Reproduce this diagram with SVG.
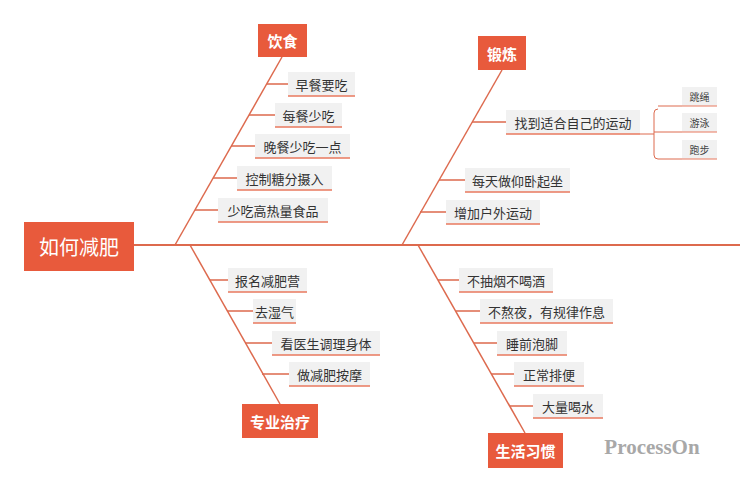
<svg xmlns="http://www.w3.org/2000/svg" width="740" height="492" viewBox="0 0 740 492">
<style>
.t{font-family:"Noto Sans CJK SC","Liberation Sans",sans-serif;font-size:13px;fill:#333;text-anchor:middle;dominant-baseline:central}
.b{fill:#f1f1f1}
.u{stroke:#e8785e;stroke-width:1.5}
.c{fill:#e85a3c}
.h{font-family:"Noto Sans CJK SC",sans-serif;font-size:15px;fill:#fff;text-anchor:middle;dominant-baseline:central;font-weight:bold}
.l{stroke:#dd6a4e;stroke-width:1.5;fill:none}
.s{font-family:"Noto Sans CJK SC",sans-serif;font-size:10px;fill:#444;text-anchor:middle;dominant-baseline:central}
</style>
<rect width="740" height="492" fill="#fff"/>
<g id="connectors">
<line class="l" x1="134" y1="245" x2="740" y2="245" style="stroke-width:2"/>
<line class="l" x1="282" y1="57" x2="175" y2="245"/>
<line class="l" x1="502" y1="70" x2="402" y2="245"/>
<line class="l" x1="190" y1="245" x2="280" y2="404"/>
<line class="l" x1="418" y1="245" x2="525" y2="433"/>
<path class="l" d="M267 84H288M249 115H275M231 146H255M213 178H237M195 210H218"/>
<path class="l" d="M472 122H506M439 180H465M420 212H446"/>
<path class="l" d="M210 280H228M227 311H253M245 343H272M262 374H289"/>
<path class="l" d="M438 280H459M456 311H480M474 343H497M491 374H514M510 406H533"/>
<path class="l" style="stroke-width:1" d="M640 134H654M658 109Q654 109 654 113V155Q654 159 658 159H682M654 132H682M658 106H682"/>
</g>
<g id="root"><rect class="c" x="24" y="222" width="110" height="49"/><text class="h" x="79" y="246" style="font-size:20px;font-weight:normal">如何减肥</text></g>
<g id="yinshi"><rect class="c" x="258" y="24" width="49" height="33"/><text class="h" x="282.5" y="40.5">饮食</text></g>
<g id="duanlian"><rect class="c" x="478" y="36" width="48" height="34"/><text class="h" x="502" y="53">锻炼</text></g>
<g id="zhuanye"><rect class="c" x="242" y="404" width="76" height="34"/><text class="h" x="280" y="421">专业治疗</text></g>
<g id="shenghuo"><rect class="c" x="488" y="433" width="75" height="35"/><text class="h" x="525.5" y="450.5">生活习惯</text></g>
<g id="n1"><rect class="b" x="288" y="72" width="67" height="24"/><line class="u" x1="288" y1="96" x2="355" y2="96"/><text class="t" x="321.5" y="84">早餐要吃</text></g>
<g id="n2"><rect class="b" x="275" y="103" width="67" height="24"/><line class="u" x1="275" y1="127" x2="342" y2="127"/><text class="t" x="308.5" y="115">每餐少吃</text></g>
<g id="n3"><rect class="b" x="255" y="134" width="95" height="24"/><line class="u" x1="255" y1="158" x2="350" y2="158"/><text class="t" x="302.5" y="146">晚餐少吃一点</text></g>
<g id="n4"><rect class="b" x="237" y="166" width="95" height="24"/><line class="u" x1="237" y1="190" x2="332" y2="190"/><text class="t" x="284.5" y="178">控制糖分摄入</text></g>
<g id="n5"><rect class="b" x="218" y="198" width="110" height="24"/><line class="u" x1="218" y1="222" x2="328" y2="222"/><text class="t" x="273" y="210">少吃高热量食品</text></g>
<g id="n6"><rect class="b" x="506" y="110" width="134" height="24"/><line class="u" x1="506" y1="134" x2="640" y2="134"/><text class="t" x="573" y="122">找到适合自己的运动</text></g>
<g id="n6a"><rect class="b" x="682" y="87" width="35" height="19"/><line class="u" x1="682" y1="106" x2="717" y2="106" style="stroke-width:1"/><text class="s" x="699.5" y="96">跳绳</text></g>
<g id="n6b"><rect class="b" x="682" y="113" width="35" height="19"/><line class="u" x1="682" y1="132" x2="717" y2="132" style="stroke-width:1"/><text class="s" x="699.5" y="122">游泳</text></g>
<g id="n6c"><rect class="b" x="682" y="140" width="35" height="19"/><line class="u" x1="682" y1="159" x2="717" y2="159" style="stroke-width:1"/><text class="s" x="699.5" y="149">跑步</text></g>
<g id="n7"><rect class="b" x="465" y="168" width="105" height="24"/><line class="u" x1="465" y1="192" x2="570" y2="192"/><text class="t" x="517.5" y="180">每天做仰卧起坐</text></g>
<g id="n8"><rect class="b" x="446" y="200" width="94" height="24"/><line class="u" x1="446" y1="224" x2="540" y2="224"/><text class="t" x="493" y="212">增加户外运动</text></g>
<g id="n9"><rect class="b" x="228" y="268" width="79" height="24"/><line class="u" x1="228" y1="292" x2="307" y2="292"/><text class="t" x="267.5" y="280">报名减肥营</text></g>
<g id="n10"><rect class="b" x="253" y="299" width="43" height="24"/><line class="u" x1="253" y1="323" x2="296" y2="323"/><text class="t" x="274.5" y="311">去湿气</text></g>
<g id="n11"><rect class="b" x="272" y="331" width="108" height="24"/><line class="u" x1="272" y1="355" x2="380" y2="355"/><text class="t" x="326" y="343">看医生调理身体</text></g>
<g id="n12"><rect class="b" x="289" y="362" width="81" height="24"/><line class="u" x1="289" y1="386" x2="370" y2="386"/><text class="t" x="329.5" y="374">做减肥按摩</text></g>
<g id="n13"><rect class="b" x="459" y="268" width="94" height="24"/><line class="u" x1="459" y1="292" x2="553" y2="292"/><text class="t" x="506" y="280">不抽烟不喝酒</text></g>
<g id="n14"><rect class="b" x="480" y="299" width="133" height="24"/><line class="u" x1="480" y1="323" x2="613" y2="323"/><text class="t" x="546.5" y="311">不熬夜，有规律作息</text></g>
<g id="n15"><rect class="b" x="497" y="331" width="70" height="24"/><line class="u" x1="497" y1="355" x2="567" y2="355"/><text class="t" x="532" y="343">睡前泡脚</text></g>
<g id="n16"><rect class="b" x="514" y="362" width="70" height="24"/><line class="u" x1="514" y1="386" x2="584" y2="386"/><text class="t" x="549" y="374">正常排便</text></g>
<g id="n17"><rect class="b" x="533" y="394" width="70" height="24"/><line class="u" x1="533" y1="418" x2="603" y2="418"/><text class="t" x="568" y="406">大量喝水</text></g>
<text x="652" y="454" font-family="Liberation Serif,serif" font-size="21" font-weight="bold" fill="#a8a8a8" text-anchor="middle">ProcessOn</text>
</svg>
